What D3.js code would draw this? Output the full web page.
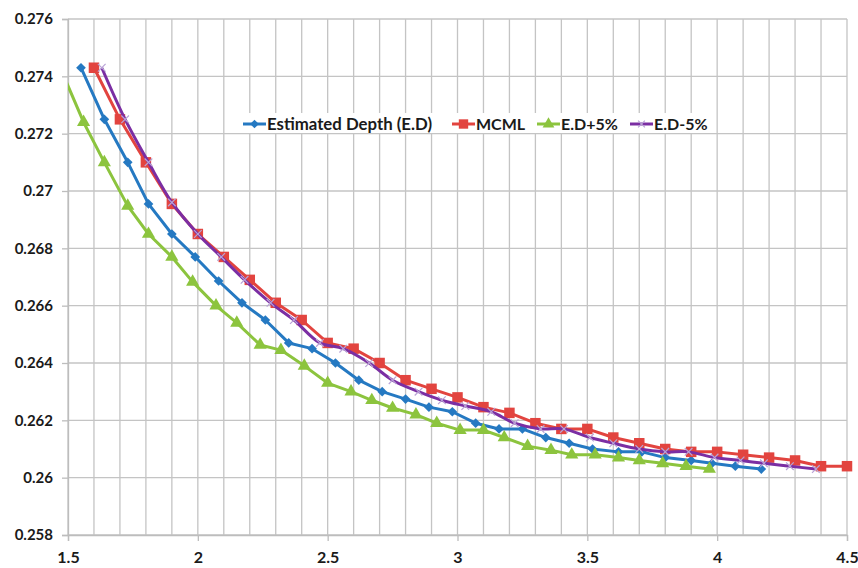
<!DOCTYPE html>
<html>
<head>
<meta charset="utf-8">
<script src="https://cdn.jsdelivr.net/npm/d3@7"></script>
<style>
  body { margin: 0; background: #fff; }
  svg { display: block; }
  .tick text { font-family: Lato, "Liberation Sans", sans-serif; font-weight: bold; font-size: 15px; fill: #1a1a1a; }
</style>
</head>
<body>
<div id="chart"></div>
<script>
// x = depth, y = value for each series
var mcmlX = [1.6, 1.7, 1.8, 1.9, 2.0, 2.1, 2.2, 2.3, 2.4, 2.5, 2.6, 2.7, 2.8, 2.9, 3.0,
             3.1, 3.2, 3.3, 3.4, 3.5, 3.6, 3.7, 3.8, 3.9, 4.0, 4.1, 4.2, 4.3, 4.4, 4.5];
var mcmlY = [0.2743, 0.2725, 0.2710, 0.26955, 0.2685, 0.2677, 0.2669, 0.2661, 0.2655, 0.2647,
             0.2645, 0.2640, 0.2634, 0.2631, 0.2628, 0.26246, 0.26226, 0.2619, 0.2617, 0.2617,
             0.2614, 0.2612, 0.2610, 0.2609, 0.2609, 0.2608, 0.2607, 0.2606, 0.2604, 0.2604];

var edX = [1.55, 1.64, 1.73, 1.81, 1.90, 1.99, 2.08, 2.17, 2.26, 2.35, 2.44, 2.53, 2.62, 2.71, 2.80,
           2.89, 2.98, 3.07, 3.16, 3.25, 3.34, 3.43, 3.52, 3.62, 3.71, 3.80, 3.90, 3.98, 4.07, 4.17];
var edY = [0.2743, 0.2725, 0.2710, 0.26955, 0.2685, 0.2677, 0.26686, 0.2661, 0.2655, 0.2647,
           0.2645, 0.2640, 0.2634, 0.2630, 0.26274, 0.26246, 0.2623, 0.2619, 0.2617, 0.2617,
           0.2614, 0.2612, 0.2610, 0.2609, 0.2609, 0.2607, 0.2606, 0.2605, 0.2604, 0.2603];

var plusX = [1.47, 1.56, 1.64, 1.73, 1.81, 1.90, 1.98, 2.07, 2.15, 2.24, 2.32, 2.41, 2.50, 2.59, 2.67,
             2.75, 2.84, 2.92, 3.01, 3.10, 3.18, 3.27, 3.36, 3.44, 3.53, 3.62, 3.70, 3.79, 3.88, 3.97];
var plusY = [0.2743, 0.2724, 0.2710, 0.26948, 0.2685, 0.2677, 0.26683, 0.2660, 0.2654, 0.26463,
             0.26445, 0.2639, 0.2633, 0.2630, 0.2627, 0.26243, 0.2622, 0.2619, 0.26166, 0.26166,
             0.2614, 0.2611, 0.26096, 0.2608, 0.2608, 0.2607, 0.2606, 0.2605, 0.2604, 0.2603];

var minusX = [1.63, 1.72, 1.81, 1.90, 2.00, 2.09, 2.18, 2.28, 2.37, 2.47, 2.56, 2.66, 2.75, 2.85, 2.94,
              3.03, 3.13, 3.22, 3.32, 3.41, 3.51, 3.60, 3.70, 3.80, 3.89, 3.99, 4.09, 4.18, 4.28, 4.38];
var minusY = [0.2743, 0.2725, 0.2710, 0.2696, 0.2685, 0.2677, 0.2669, 0.2661, 0.2655, 0.2647,
              0.2645, 0.2640, 0.2634, 0.2630, 0.2627, 0.2625, 0.2623, 0.2619, 0.2617, 0.2617,
              0.2614, 0.2612, 0.2610, 0.2609, 0.2609, 0.2607, 0.2606, 0.2605, 0.2604, 0.2603];

var xTicks = [1.5, 2, 2.5, 3, 3.5, 4, 4.5];
var yTicks = [0.258, 0.26, 0.262, 0.264, 0.266, 0.268, 0.27, 0.272, 0.274, 0.276];
var seriesNames = ["Estimated Depth (E.D)", "MCML", "E.D+5%", "E.D-5%"];

// set the dimensions of the page (plot box in pixels)
var width = 858,
    height = 568,
    plotLeft = 68, plotRight = 847, plotTop = 19, plotBottom = 535;

var svg = d3.select("#chart")
  .append("svg")
    .attr("width", width)
    .attr("height", height);

var x = d3.scaleLinear().domain([1.5, 4.5]).range([plotLeft, plotRight]);
var y = d3.scaleLinear().domain([0.258, 0.276]).range([plotBottom, plotTop]);

// grid lines: every 0.1 on x, every 0.002 on y
svg.append("g")
  .selectAll("line")
  .data(x.ticks(30))
  .enter()
  .append("line")
    .attr("x1", function(d) { return x(d); })
    .attr("x2", function(d) { return x(d); })
    .attr("y1", plotTop)
    .attr("y2", plotBottom)
    .attr("stroke", "#c4c4c4")
    .attr("stroke-width", 1.3);

svg.append("g")
  .selectAll("line")
  .data(yTicks)
  .enter()
  .append("line")
    .attr("x1", plotLeft)
    .attr("x2", plotRight)
    .attr("y1", function(d) { return y(d); })
    .attr("y2", function(d) { return y(d); })
    .attr("stroke", "#c4c4c4")
    .attr("stroke-width", 1.3);

// axes
var fmt = function(d) { return String(+d.toFixed(3)); };

var xAxis = svg.append("g")
    .attr("transform", "translate(0," + plotBottom + ")")
    .call(d3.axisBottom(x).tickValues(xTicks).tickSize(6).tickPadding(11).tickFormat(fmt));
xAxis.selectAll(".tick text").style("font-size", "16px");

var yAxis = svg.append("g")
    .attr("transform", "translate(" + plotLeft + ",0)")
    .call(d3.axisLeft(y).tickValues(yTicks).tickSize(6).tickPadding(9).tickFormat(fmt));

[xAxis, yAxis].forEach(function(a) {
  a.select(".domain").attr("stroke", "#bdbdbd").attr("stroke-width", 1.3);
  a.selectAll(".tick line").attr("stroke", "#bdbdbd").attr("stroke-width", 1.3);
});

// clip the lines to the plot area
svg.append("clipPath")
    .attr("id", "plotClip")
  .append("rect")
    .attr("x", plotLeft)
    .attr("y", plotTop - 10)
    .attr("width", plotRight - plotLeft + 10)
    .attr("height", plotBottom - plotTop + 10);

var series = [
  { name: seriesNames[0], xs: edX,    ys: edY,    color: "#2579c2", symbol: d3.symbolDiamond2, size: 60,  curve: d3.curveLinear },
  { name: seriesNames[1], xs: mcmlX,  ys: mcmlY,  color: "#e2443f", symbol: d3.symbolSquare,   size: 110, curve: d3.curveLinear },
  { name: seriesNames[2], xs: plusX,  ys: plusY,  color: "#8cc43e", symbol: d3.symbolTriangle, size: 75,  curve: d3.curveLinear },
  { name: seriesNames[3], xs: minusX, ys: minusY, color: "#7b2ea3", symbol: d3.symbolX,        size: 40,  curve: d3.curveCatmullRom }
];

var plot = svg.append("g").attr("clip-path", "url(#plotClip)");

series.forEach(function(s) {
  var pts = s.xs.map(function(v, i) { return [v, s.ys[i]]; });

  var line = d3.line()
      .x(function(d) { return x(d[0]); })
      .y(function(d) { return y(d[1]); })
      .curve(s.curve);

  plot.append("path")
      .datum(pts)
      .attr("d", line)
      .attr("fill", "none")
      .attr("stroke", s.color)
      .attr("stroke-width", 3)
      .attr("stroke-linejoin", "round");

  var sym = d3.symbol().type(s.symbol).size(s.size);
  plot.selectAll(null)
    .data(pts.filter(function(d) { return d[0] >= 1.5; }))
    .enter()
    .append("path")
      .attr("d", sym)
      .attr("transform", function(d) { return "translate(" + x(d[0]) + "," + y(d[1]) + ")"; })
      .attr("fill", s.symbol === d3.symbolX ? "none" : s.color)
      .attr("stroke", s.symbol === d3.symbolX ? "#b9a3d6" : "none")
      .attr("stroke-width", 1.2);
});

// legend
var legendX = [243, 452, 537, 630];
var legendY = 124;

svg.append("rect")
    .attr("x", 237)
    .attr("y", 113)
    .attr("width", 476)
    .attr("height", 20)
    .attr("fill", "#fff");

series.forEach(function(s, i) {
  var g = svg.append("g").attr("transform", "translate(" + legendX[i] + "," + legendY + ")");
  g.append("line")
      .attr("x1", 0).attr("x2", 23)
      .attr("stroke", s.color)
      .attr("stroke-width", 3);
  g.append("path")
      .attr("d", d3.symbol().type(s.symbol).size(s.size * 0.8))
      .attr("transform", "translate(11.5,0)")
      .attr("fill", s.symbol === d3.symbolX ? "none" : s.color)
      .attr("stroke", s.symbol === d3.symbolX ? "#b9a3d6" : "none")
      .attr("stroke-width", 1.2);
  g.append("text")
      .attr("x", 24)
      .attr("y", 5.5)
      .style("font-family", "Lato, 'Liberation Sans', sans-serif")
      .style("font-weight", "bold")
      .style("font-size", i === 0 ? "16.8px" : "16px")
      .style("fill", "#1a1a1a")
      .text(s.name);
});
</script>
</body>
</html>
